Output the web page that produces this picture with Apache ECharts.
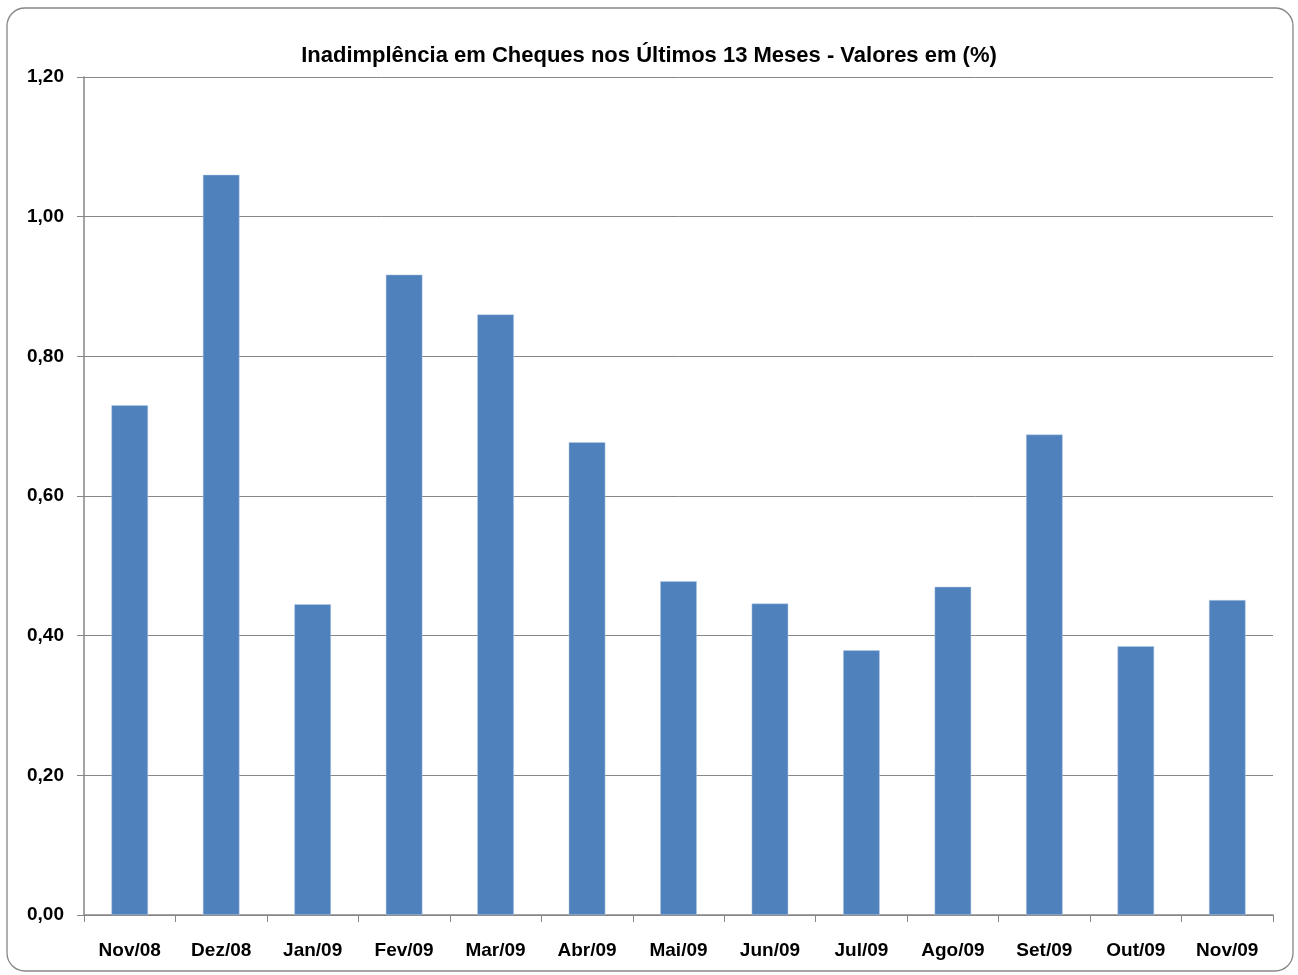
<!DOCTYPE html>
<html>
<head>
<meta charset="utf-8">
<script src="https://cdn.jsdelivr.net/npm/echarts@6/dist/echarts.min.js"></script>
<style>
  html, body { margin: 0; padding: 0; background: #fff; }
  #main { width: 1298px; height: 975px; }
</style>
</head>
<body>
<div id="main"></div>
<script>
// meses e valores (%)
var months = ['Nov/08', 'Dez/08', 'Jan/09', 'Fev/09', 'Mar/09', 'Abr/09', 'Mai/09',
              'Jun/09', 'Jul/09', 'Ago/09', 'Set/09', 'Out/09', 'Nov/09'];
var values = [0.73, 1.06, 0.445, 0.917, 0.86, 0.677, 0.478, 0.446, 0.379, 0.47, 0.688, 0.385, 0.451];
var titleText = 'Inadimplência em Cheques nos Últimos 13 Meses - Valores em (%)';

var fontFam = '"Liberation Sans", Arial, sans-serif';

var chart = echarts.init(document.getElementById('main'));
chart.setOption({
  animation: false,
  title: {
    text: titleText,
    left: 'center',
    top: 40,
    textStyle: { fontFamily: fontFam, fontWeight: 'bold', fontSize: 22, color: '#000' }
  },
  graphic: [{
    type: 'rect',
    shape: { x: 7, y: 8, width: 1286, height: 963, r: 18 },
    style: { fill: 'none', stroke: '#868686', lineWidth: 1.3 },
    silent: true
  }],
  grid: { left: 84, right: 25, top: 77, bottom: 60 },
  xAxis: {
    type: 'category',
    data: months,
    axisLine: { lineStyle: { color: '#868686', width: 1.5 } },
    axisTick: { show: true, length: 7, alignWithLabel: false, lineStyle: { color: '#868686' } },
    axisLabel: { fontFamily: fontFam, fontWeight: 'bold', fontSize: 19, color: '#000', margin: 26 }
  },
  yAxis: {
    type: 'value',
    min: 0,
    max: 1.2,
    interval: 0.2,
    axisLine: { show: true, lineStyle: { color: '#868686', width: 1.5 } },
    axisTick: { show: true, length: 7, lineStyle: { color: '#868686' } },
    splitLine: { lineStyle: { color: '#868686', width: 1 } },
    axisLabel: {
      fontFamily: fontFam, fontWeight: 'bold', fontSize: 19, color: '#000', margin: 20,
      formatter: function (v) { return v.toFixed(2).replace('.', ','); }
    }
  },
  series: [{
    type: 'bar',
    data: values,
    barWidth: '40%',
    itemStyle: { color: '#4F81BD', borderColor: '#B9CDE5', borderWidth: 0.5 }
  }]
});
</script>
</body>
</html>
